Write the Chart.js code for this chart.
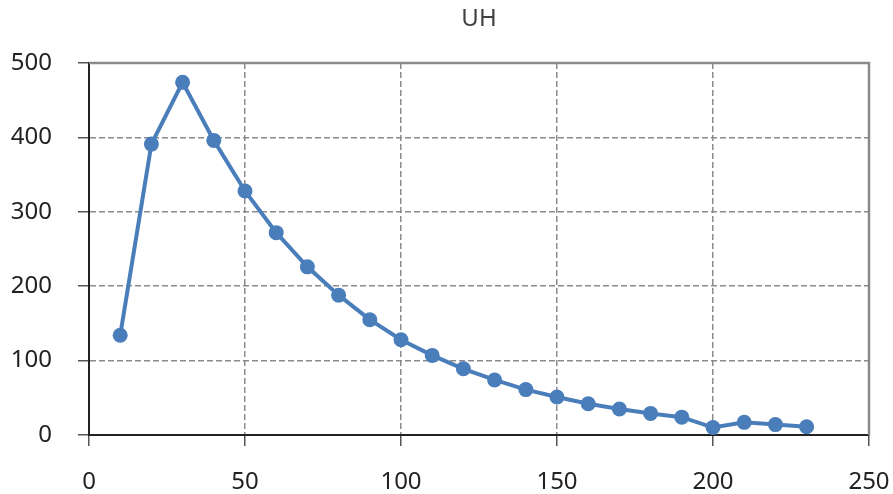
<!DOCTYPE html>
<html>
<head>
<meta charset="utf-8">
<script src="https://cdn.jsdelivr.net/npm/chart.js@4/dist/chart.umd.min.js"></script>
<style>
  html, body { margin: 0; padding: 0; background: #fff; }
  #wrap { width: 893px; height: 494px; }
</style>
</head>
<body>
<div id="wrap"><canvas id="c" width="893" height="494"></canvas></div>
<script>
// UH series: x positions and values
const xValues = [10, 20, 30, 40, 50, 60, 70, 80, 90, 100, 110, 120, 130, 140, 150, 160, 170, 180, 190, 200, 210, 220, 230];
const uhValues = [134, 391, 474, 396, 328, 272, 226, 188, 155, 128, 107, 89, 74, 61, 51, 42, 35, 29, 24, 10, 17, 14, 11];

// Axis ranges and tick step
const xTicks = [0, 50, 100, 150, 200, 250];
const yTicks = [0, 100, 200, 300, 400, 500];

const FONT = '"Noto Sans", "Open Sans", sans-serif';

// Solid gray frame along the top and right edges of the plot area
const framePlugin = {
  id: 'frame',
  afterDatasetsDraw(chart) {
    const { ctx, chartArea: a } = chart;
    ctx.save();
    ctx.strokeStyle = '#8a8a8a';
    ctx.lineWidth = 2.5;
    ctx.setLineDash([]);
    ctx.beginPath();
    ctx.moveTo(a.left, a.top);
    ctx.lineTo(a.right, a.top);
    ctx.lineTo(a.right, a.bottom);
    ctx.stroke();
    ctx.restore();
  }
};

new Chart(document.getElementById('c'), {
  type: 'scatter',
  data: {
    datasets: [{
      label: 'UH',
      data: xValues.map((x, i) => ({ x, y: uhValues[i] })),
      showLine: true,
      borderColor: '#4a7ebb',
      backgroundColor: '#4a7ebb',
      borderWidth: 4,
      pointRadius: 7.5,
      pointHoverRadius: 7.5,
      pointBorderWidth: 0,
      tension: 0,
      clip: false
    }]
  },
  options: {
    responsive: false,
    animation: false,
    layout: { padding: { left: 0, right: 24, top: 0, bottom: 0 } },
    plugins: {
      legend: { display: false },
      tooltip: { enabled: false },
      title: { display: false }
    },
    scales: {
      // top axis only carries the chart heading, centred over the plot area
      top: {
        type: 'linear',
        position: 'top',
        min: xTicks[0],
        max: xTicks[xTicks.length - 1],
        afterFit(scale) { scale.height = 63; scale.paddingLeft = 0; scale.paddingRight = 0; },
        ticks: { display: false },
        grid: { display: false, drawTicks: false },
        border: { display: false },
        title: {
          display: true,
          text: 'UH',
          color: '#404040',
          font: { family: FONT, size: 24, weight: 'normal' },
          padding: { top: 5, bottom: 0 }
        }
      },
      x: {
        type: 'linear',
        min: xTicks[0],
        max: xTicks[xTicks.length - 1],
        afterBuildTicks(scale) { scale.ticks = xTicks.map(v => ({ value: v })); },
        afterFit(scale) { scale.height = 59; scale.paddingLeft = 0; scale.paddingRight = 0; },
        ticks: {
          color: '#222',
          font: { family: FONT, size: 24 },
          padding: 22,
          maxRotation: 0
        },
        grid: {
          color: '#8a8a8a',
          lineWidth: 1.5,
          tickLength: 11,
          tickColor: '#555',
          tickWidth: 1.5,
          tickBorderDash: []
        },
        border: { display: true, color: '#222', width: 2, dash: [6, 3] }
      },
      y: {
        type: 'linear',
        min: yTicks[0],
        max: yTicks[yTicks.length - 1],
        afterBuildTicks(scale) { scale.ticks = yTicks.map(v => ({ value: v })); },
        afterFit(scale) { scale.width = 89; scale.paddingTop = 0; scale.paddingBottom = 0; },
        ticks: {
          color: '#222',
          font: { family: FONT, size: 24 },
          padding: 26
        },
        grid: {
          color: '#8a8a8a',
          lineWidth: 1.5,
          tickLength: 11,
          tickColor: '#555',
          tickWidth: 1.5,
          tickBorderDash: []
        },
        border: { display: true, color: '#222', width: 2, dash: [6, 3] }
      }
    }
  },
  plugins: [framePlugin]
});
</script>
</body>
</html>
